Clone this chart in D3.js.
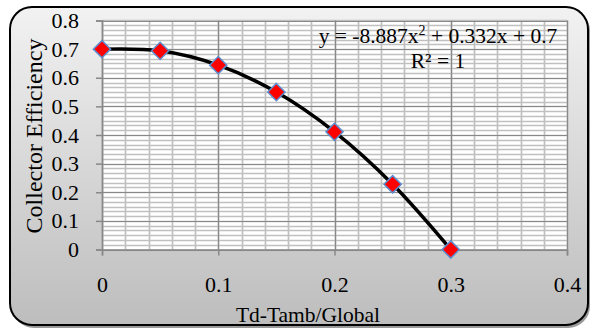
<!DOCTYPE html>
<html>
<head>
<meta charset="utf-8">
<script src="https://cdn.jsdelivr.net/npm/d3@7"></script>
<style>
  body { margin: 0; background: #fff; }
  text { font-family: "Liberation Serif", "Times New Roman", serif; fill: #000; }
</style>
</head>
<body>
<div id="chart"></div>
<script>
var xValues = [0, 0.05, 0.1, 0.15, 0.2, 0.25, 0.3];
var efficiency = [0.7, 0.694, 0.644, 0.55, 0.411, 0.228, 0];
var xTicks = [0, 0.1, 0.2, 0.3, 0.4];
var yTicks = [0, 0.1, 0.2, 0.3, 0.4, 0.5, 0.6, 0.7, 0.8];
var xTitle = 'Td-Tamb/Global';
var yTitle = 'Collector Efficiency';
var equation = ['y = -8.887x', '2', ' + 0.332x + 0.7'];
var rSquared = 'R² = 1';

var width = 592, height = 330;
var plot = {left: 102, right: 567, top: 20.5, bottom: 249.5};

var svg = d3.select('#chart').append('svg')
    .attr('width', width)
    .attr('height', height);

var defs = svg.append('defs');
var grad = defs.append('linearGradient')
    .attr('id', 'bg')
    .attr('x1', 0).attr('y1', 0).attr('x2', 0).attr('y2', 1);
grad.append('stop').attr('offset', '0%').attr('stop-color', '#f2f2f2');
grad.append('stop').attr('offset', '100%').attr('stop-color', '#bdbdbd');

// frame + shadow
svg.append('rect')
    .attr('x', 12).attr('y', 9)
    .attr('width', 578).attr('height', 319)
    .attr('rx', 22)
    .attr('fill', '#555')
    .attr('opacity', 0.6);
svg.append('rect')
    .attr('x', 10).attr('y', 7)
    .attr('width', 578).attr('height', 318)
    .attr('rx', 22)
    .attr('fill', 'url(#bg)')
    .attr('stroke', '#000')
    .attr('stroke-width', 2);

var x = d3.scaleLinear().domain([0, 0.4]).range([plot.left, plot.right]);
var y = d3.scaleLinear().domain([0, 0.8]).range([plot.bottom, plot.top]);

svg.append('rect')
    .attr('x', plot.left).attr('y', plot.top)
    .attr('width', plot.right - plot.left)
    .attr('height', plot.bottom - plot.top)
    .attr('fill', '#fff');

// minor grid
var xMinor = x.ticks(20);
var yMinor = d3.range(0, 49).map(function(i){ return i * 0.8 / 48; });

var grid = svg.append('g');
grid.selectAll('line.ym')
    .data(yMinor)
    .enter().append('line')
    .attr('x1', plot.left).attr('x2', plot.right)
    .attr('y1', function(d){ return Math.round(y(d)) + 0.5; })
    .attr('y2', function(d){ return Math.round(y(d)) + 0.5; })
    .attr('stroke', '#c0c0c0')
    .attr('stroke-width', 1.7);
grid.selectAll('line.xm')
    .data(xMinor)
    .enter().append('line')
    .attr('y1', plot.top).attr('y2', plot.bottom)
    .attr('x1', function(d){ return Math.round(x(d)) + 0.5; })
    .attr('x2', function(d){ return Math.round(x(d)) + 0.5; })
    .attr('stroke', '#c0c0c0')
    .attr('stroke-width', 1.7);

// major grid
grid.selectAll('line.yM')
    .data(yTicks)
    .enter().append('line')
    .attr('x1', plot.left).attr('x2', plot.right)
    .attr('y1', function(d){ return Math.round(y(d)) + 0.5; })
    .attr('y2', function(d){ return Math.round(y(d)) + 0.5; })
    .attr('stroke', '#888')
    .attr('stroke-width', 1.2);
grid.selectAll('line.xM')
    .data(xTicks)
    .enter().append('line')
    .attr('y1', plot.top).attr('y2', plot.bottom)
    .attr('x1', function(d){ return Math.round(x(d)) + 0.5; })
    .attr('x2', function(d){ return Math.round(x(d)) + 0.5; })
    .attr('stroke', '#888')
    .attr('stroke-width', 1.2);

// axes
var fmt = function(d){ return d === 0 ? '0' : d3.format('.1f')(d); };
var yAxis = svg.append('g')
    .attr('transform', 'translate(' + plot.left + ',0)')
    .call(d3.axisLeft(y).tickValues(yTicks).tickSize(6).tickPadding(17).tickFormat(fmt));
var xAxis = svg.append('g')
    .attr('transform', 'translate(0,' + plot.bottom + ')')
    .call(d3.axisBottom(x).tickValues(xTicks).tickSize(6).tickPadding(21).tickFormat(fmt));

[xAxis, yAxis].forEach(function(a){
    a.select('.domain').attr('stroke', '#888').attr('stroke-width', 1.5);
    a.selectAll('.tick line').attr('stroke', '#888').attr('stroke-width', 1.5);
    a.selectAll('text')
        .attr('font-family', '"Liberation Serif", serif')
        .attr('font-size', 22)
        .attr('fill', '#000');
});

// titles
svg.append('text')
    .attr('x', 308).attr('y', 322)
    .attr('text-anchor', 'middle')
    .attr('font-size', 21.5)
    .text(xTitle);
svg.append('text')
    .attr('transform', 'translate(42,136) rotate(-90)')
    .attr('text-anchor', 'middle')
    .attr('font-size', 24)
    .text(yTitle);

// trend line
var line = d3.line()
    .x(function(d, i){ return x(xValues[i]); })
    .y(function(d){ return y(d); })
    .curve(d3.curveCatmullRom.alpha(0.5));

svg.append('path')
    .datum(efficiency)
    .attr('d', line)
    .attr('fill', 'none')
    .attr('stroke', '#000')
    .attr('stroke-width', 3.5);

// markers
svg.selectAll('path.marker')
    .data(efficiency)
    .enter().append('path')
    .attr('class', 'marker')
    .attr('d', d3.symbol().type(d3.symbolDiamond2).size(190))
    .attr('transform', function(d, i){ return 'translate(' + x(xValues[i]) + ',' + y(d) + ')'; })
    .attr('fill', '#ff0000')
    .attr('stroke', '#5b8ed0')
    .attr('stroke-width', 1.5);

// equation label
var eq = svg.append('text')
    .attr('x', 438).attr('y', 43)
    .attr('text-anchor', 'middle')
    .attr('font-size', 21.5);
eq.append('tspan').text(equation[0]);
eq.append('tspan').attr('dy', -8).attr('font-size', 14).text(equation[1]);
eq.append('tspan').attr('dy', 8).text(equation[2]);

svg.append('text')
    .attr('x', 438).attr('y', 68)
    .attr('text-anchor', 'middle')
    .attr('font-size', 21.5)
    .text(rSquared);
</script>
</body>
</html>
